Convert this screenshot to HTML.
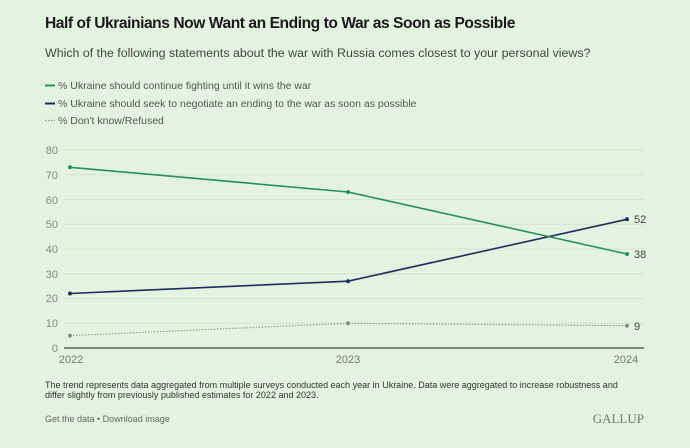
<!DOCTYPE html>
<html><head><meta charset="utf-8"><style>
body{margin:0;width:690px;height:448px;background:#e4f2e1;font-family:"Liberation Sans",sans-serif;overflow:hidden;position:relative}
.t{position:absolute;white-space:nowrap}
</style></head><body>
<div class="t" style="left:45px;top:15px;font-size:15.6px;font-weight:bold;color:#1a1a1a;letter-spacing:-0.45px">Half of Ukrainians Now Want an Ending to War as Soon as Possible</div>
<div class="t" style="left:45px;top:46px;font-size:12.4px;color:#444">Which of the following statements about the war with Russia comes closest to your personal views?</div>
<svg width="690" height="448" style="position:absolute;left:0;top:0" font-family="Liberation Sans, sans-serif">
<line x1="45" y1="85.5" x2="55" y2="85.5" stroke="#23915a" stroke-width="2"/>
<text x="58" y="89" font-size="10.5" fill="#555">% Ukraine should continue fighting until it wins the war</text>
<line x1="45" y1="103.5" x2="55" y2="103.5" stroke="#1d2c5c" stroke-width="2"/>
<text x="58" y="107" font-size="10.5" fill="#555">% Ukraine should seek to negotiate an ending to the war as soon as possible</text>
<line x1="45" y1="120.5" x2="55" y2="120.5" stroke="#999" stroke-width="1.2" stroke-dasharray="1.5 1.5"/>
<text x="58" y="124" font-size="10.5" fill="#555">% Don't know/Refused</text>
<g stroke="#d3e3d0" stroke-width="1">
<line x1="64" y1="150" x2="644" y2="150"/><line x1="64" y1="174.75" x2="644" y2="174.75"/>
<line x1="64" y1="199.5" x2="644" y2="199.5"/><line x1="64" y1="224.25" x2="644" y2="224.25"/>
<line x1="64" y1="249" x2="644" y2="249"/><line x1="64" y1="273.75" x2="644" y2="273.75"/>
<line x1="64" y1="298.5" x2="644" y2="298.5"/><line x1="64" y1="323.25" x2="644" y2="323.25"/>
</g>
<line x1="64" y1="348" x2="644" y2="348" stroke="#3d4a3d" stroke-width="1.2"/>
<g font-size="11" fill="#888" text-anchor="end">
<text x="58" y="154">80</text><text x="58" y="179">70</text><text x="58" y="204">60</text><text x="58" y="228">50</text>
<text x="58" y="253">40</text><text x="58" y="278">30</text><text x="58" y="302">20</text><text x="58" y="327">10</text><text x="58" y="352">0</text>
</g>
<g font-size="11" fill="#777" text-anchor="middle">
<text x="71" y="363">2022</text><text x="348" y="363">2023</text><text x="626" y="363">2024</text>
</g>
<polyline points="70,335.6 348,323.3 627,325.7" fill="none" stroke="#999" stroke-width="1.2" stroke-dasharray="1.5 1.5"/>
<polyline points="70,293.5 348,281.2 627,219.3" fill="none" stroke="#1d2c5c" stroke-width="1.6"/>
<polyline points="70,167.3 348,192 627,254" fill="none" stroke="#23915a" stroke-width="1.6"/>
<g fill="#888"><circle cx="70" cy="335.6" r="2"/><circle cx="348" cy="323.3" r="2"/><circle cx="627" cy="325.7" r="2"/></g>
<g fill="#1d2c5c"><circle cx="70" cy="293.5" r="2"/><circle cx="348" cy="281.2" r="2"/><circle cx="627" cy="219.3" r="2"/></g>
<g fill="#23915a"><circle cx="70" cy="167.3" r="2"/><circle cx="348" cy="192" r="2"/><circle cx="627" cy="254" r="2"/></g>
<g font-size="11" fill="#444"><text x="634" y="223">52</text><text x="634" y="258">38</text><text x="634" y="330">9</text></g>
<text x="45" y="388" font-size="9" fill="#333">The trend represents data aggregated from multiple surveys conducted each year in Ukraine. Data were aggregated to increase robustness and</text>
<text x="45" y="398" font-size="9" fill="#333">differ slightly from previously published estimates for 2022 and 2023.</text>
<text x="45" y="422" font-size="9" fill="#666">Get the data • Download image</text>
<text x="644" y="423" font-size="13" fill="#777" text-anchor="end" font-family="Liberation Serif, serif">GALLUP</text>
</svg>
</body></html>
